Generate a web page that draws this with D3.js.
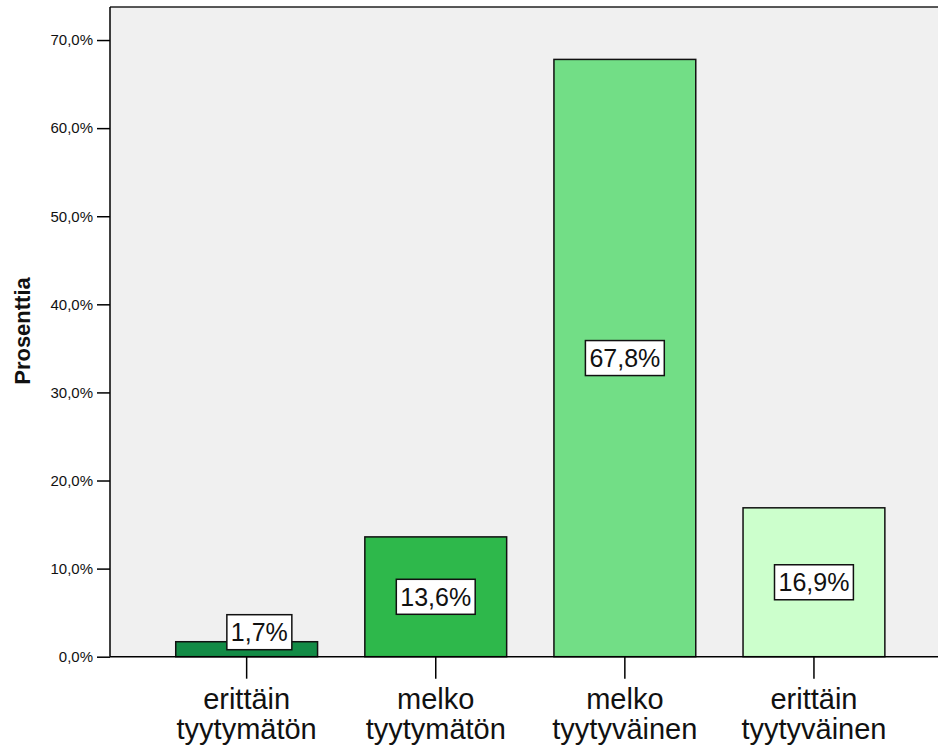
<!DOCTYPE html>
<html>
<head>
<meta charset="utf-8">
<script src="https://cdn.jsdelivr.net/npm/d3@7"></script>
<style>
  html, body { margin: 0; padding: 0; background: #ffffff; }
  svg { display: block; font-family: Arial, "Liberation Sans", sans-serif; }
</style>
</head>
<body>
<svg id="chart" width="938" height="751"></svg>
<script>
const categories = [["erittäin", "tyytymätön"], ["melko", "tyytymätön"], ["melko", "tyytyväinen"], ["erittäin", "tyytyväinen"]];
const values = [1.7, 13.6, 67.8, 16.9];
const valueLabels = ["1,7%", "13,6%", "67,8%", "16,9%"];
const barColors = ["#138b46", "#2eb84b", "#72de86", "#ccffcc"];
const yTicks = [0, 10, 20, 30, 40, 50, 60, 70];
const yTickLabels = ["0,0%", "10,0%", "20,0%", "30,0%", "40,0%", "50,0%", "60,0%", "70,0%"];
const yTitle = "Prosenttia";

const svg = d3.select("#chart");
const pLeft = 110, pTop = 7, pRight = 938, pBottom = 656.7;

const y = d3.scaleLinear().domain([0, 73.75]).range([pBottom, pTop]);
const x = d3.scaleBand().domain(d3.range(categories.length))
  .range([152.1, 908.5]).paddingInner(0.25).paddingOuter(0.125);

// plot background
svg.append("rect").attr("x", pLeft).attr("y", pTop)
  .attr("width", pRight - pLeft + 5).attr("height", pBottom - pTop)
  .attr("fill", "#f0f0f0");

// frame top line
svg.append("line").attr("x1", pLeft).attr("x2", pRight).attr("y1", pTop).attr("y2", pTop)
  .attr("stroke", "#222").attr("stroke-width", 1.5);

// bars
svg.selectAll("rect.bar").data(values).enter().append("rect")
  .attr("class", "bar")
  .attr("x", (d, i) => x(i))
  .attr("y", d => y(d))
  .attr("width", x.bandwidth())
  .attr("height", d => y(0) - y(d))
  .attr("fill", (d, i) => barColors[i])
  .attr("stroke", "#111").attr("stroke-width", 1.5);

// y axis
const yAxis = d3.axisLeft(y).tickValues(yTicks)
  .tickFormat((d, i) => yTickLabels[i]).tickSize(13).tickPadding(4);
const gy = svg.append("g").attr("transform", `translate(${pLeft},0)`).call(yAxis);
gy.attr("font-size", 15).attr("font-family", "Arial, 'Liberation Sans', sans-serif");
gy.select(".domain").remove();
gy.selectAll(".tick line").attr("stroke", "#000").attr("stroke-width", 1.5);
gy.selectAll(".tick text").attr("fill", "#111");
svg.append("line").attr("x1", pLeft).attr("x2", pLeft).attr("y1", pTop).attr("y2", pBottom)
  .attr("stroke", "#000").attr("stroke-width", 1.5);

// x axis
const xAxis = d3.axisBottom(x).tickSize(22).tickFormat("");
const gx = svg.append("g").attr("transform", `translate(0,${pBottom})`).call(xAxis);
gx.select(".domain").remove();
gx.selectAll(".tick line").attr("stroke", "#000").attr("stroke-width", 1.5);
svg.append("line").attr("x1", pLeft).attr("x2", pRight).attr("y1", pBottom).attr("y2", pBottom)
  .attr("stroke", "#000").attr("stroke-width", 1.5);

// x labels
const xl = svg.append("g");
categories.forEach((lines, i) => {
  const t = xl.append("text").attr("text-anchor", "middle")
    .attr("font-size", 29).attr("fill", "#111")
    .attr("x", x(i) + x.bandwidth() / 2).attr("y", 709);
  lines.forEach((s, j) => {
    t.append("tspan").attr("x", x(i) + x.bandwidth() / 2).attr("dy", j === 0 ? 0 : 30).text(s);
  });
});

// y title
svg.append("text").attr("transform", "translate(30,331) rotate(-90)")
  .attr("text-anchor", "middle").attr("font-weight", "bold")
  .attr("font-size", 22).attr("fill", "#111").text(yTitle);

// value labels
const boxH = 35;
values.forEach((v, i) => {
  let cx = x(i) + x.bandwidth() / 2;
  const mid = (y(v) + y(0)) / 2;
  let cy = mid;
  if (y(0) - y(v) < boxH + 14) { cy = y(0) - boxH / 2 - 7; cx += 12.7; }
  const g = svg.append("g");
  const t = g.append("text").attr("x", cx).attr("y", cy).attr("dy", "0.35em")
    .attr("text-anchor", "middle").attr("font-size", 25).attr("fill", "#111")
    .text(valueLabels[i]);
  const w = t.node().getComputedTextLength() + 8;
  g.insert("rect", "text").attr("x", cx - w / 2).attr("y", cy - boxH / 2)
    .attr("width", w).attr("height", boxH)
    .attr("fill", "#fff").attr("stroke", "#111").attr("stroke-width", 1.5);
});
</script>
</body>
</html>
